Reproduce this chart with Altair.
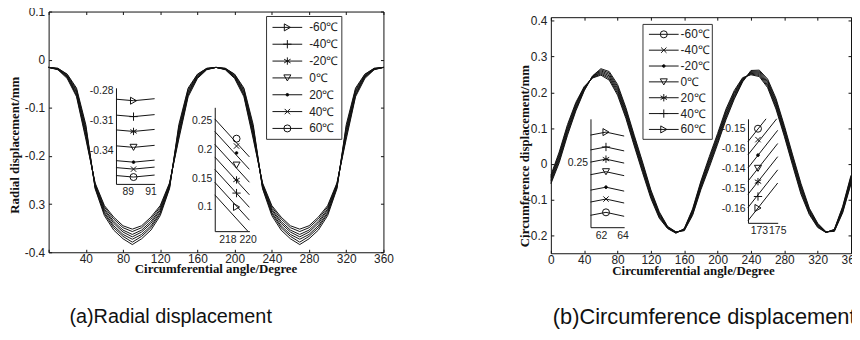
import altair as alt
import pandas as pd

W, H = 852, 332

THETA = list(range(0, 361, 10))
TEMPS = ["-60℃", "-40℃", "-20℃", "0℃", "20℃", "40℃", "60℃"]

# ---------------- panel (a): radial displacement (mm) ----------------
RAD_M60 = [-0.016, -0.021, -0.039, -0.077, -0.165, -0.256, -0.303, -0.327, -0.345, -0.352,
           -0.345, -0.327, -0.303, -0.256, -0.165, -0.077, -0.039, -0.021, -0.016,
           -0.021, -0.039, -0.077, -0.165, -0.256, -0.303, -0.327, -0.345, -0.352,
           -0.345, -0.327, -0.303, -0.256, -0.165, -0.077, -0.039, -0.021, -0.016]
RAD_M40 = [-0.016, -0.020, -0.037, -0.074, -0.160, -0.258, -0.306, -0.331, -0.349, -0.357,
           -0.349, -0.331, -0.306, -0.258, -0.160, -0.074, -0.037, -0.020, -0.016,
           -0.020, -0.037, -0.074, -0.160, -0.258, -0.306, -0.331, -0.349, -0.357,
           -0.349, -0.331, -0.306, -0.258, -0.160, -0.074, -0.037, -0.020, -0.016]
RAD_M20 = [-0.016, -0.020, -0.036, -0.071, -0.155, -0.260, -0.310, -0.336, -0.354, -0.363,
           -0.354, -0.336, -0.310, -0.260, -0.155, -0.071, -0.036, -0.020, -0.016,
           -0.020, -0.036, -0.071, -0.155, -0.260, -0.310, -0.336, -0.354, -0.363,
           -0.354, -0.336, -0.310, -0.260, -0.155, -0.071, -0.036, -0.020, -0.016]
RAD_0 = [-0.016, -0.019, -0.034, -0.068, -0.150, -0.262, -0.313, -0.340, -0.358, -0.368,
         -0.358, -0.340, -0.313, -0.262, -0.150, -0.068, -0.034, -0.019, -0.016,
         -0.019, -0.034, -0.068, -0.150, -0.262, -0.313, -0.340, -0.358, -0.368,
         -0.358, -0.340, -0.313, -0.262, -0.150, -0.068, -0.034, -0.019, -0.016]
RAD_20 = [-0.016, -0.019, -0.033, -0.065, -0.145, -0.264, -0.317, -0.345, -0.363, -0.373,
          -0.363, -0.345, -0.317, -0.264, -0.145, -0.065, -0.033, -0.019, -0.016,
          -0.019, -0.033, -0.065, -0.145, -0.264, -0.317, -0.345, -0.363, -0.373,
          -0.363, -0.345, -0.317, -0.264, -0.145, -0.065, -0.033, -0.019, -0.016]
RAD_40 = [-0.016, -0.018, -0.031, -0.062, -0.140, -0.266, -0.320, -0.349, -0.367, -0.379,
          -0.367, -0.349, -0.320, -0.266, -0.140, -0.062, -0.031, -0.018, -0.016,
          -0.018, -0.031, -0.062, -0.140, -0.266, -0.320, -0.349, -0.367, -0.379,
          -0.367, -0.349, -0.320, -0.266, -0.140, -0.062, -0.031, -0.018, -0.016]
RAD_60 = [-0.016, -0.018, -0.030, -0.059, -0.135, -0.268, -0.324, -0.354, -0.372, -0.384,
          -0.372, -0.354, -0.324, -0.268, -0.135, -0.059, -0.030, -0.018, -0.016,
          -0.018, -0.030, -0.059, -0.135, -0.268, -0.324, -0.354, -0.372, -0.384,
          -0.372, -0.354, -0.324, -0.268, -0.135, -0.059, -0.030, -0.018, -0.016]

# ---------------- panel (b): circumference displacement (mm) ----------------
CIR_M60 = [-0.032, 0.033, 0.110, 0.172, 0.216, 0.240, 0.248, 0.234, 0.192, 0.127, 0.050, -0.025,
           -0.097, -0.152, -0.181, -0.194, -0.181, -0.126, -0.048, 0.020, 0.085, 0.153, 0.205,
           0.241, 0.249, 0.244, 0.213, 0.153, 0.077, -0.005, -0.085, -0.142, -0.178, -0.192,
           -0.183, -0.119, -0.032]
CIR_M40 = [-0.036, 0.028, 0.105, 0.168, 0.214, 0.241, 0.251, 0.238, 0.197, 0.132, 0.055, -0.020,
           -0.093, -0.149, -0.180, -0.193, -0.182, -0.129, -0.052, 0.015, 0.080, 0.148, 0.201,
           0.239, 0.251, 0.247, 0.217, 0.158, 0.082, 0.000, -0.080, -0.139, -0.176, -0.192,
           -0.184, -0.122, -0.036]
CIR_M20 = [-0.040, 0.023, 0.100, 0.164, 0.212, 0.242, 0.254, 0.242, 0.202, 0.137, 0.060, -0.015,
           -0.089, -0.146, -0.179, -0.193, -0.183, -0.132, -0.056, 0.010, 0.075, 0.143, 0.197,
           0.237, 0.253, 0.250, 0.221, 0.163, 0.087, 0.005, -0.075, -0.136, -0.174, -0.191,
           -0.185, -0.125, -0.040]
CIR_0 = [-0.044, 0.018, 0.095, 0.160, 0.210, 0.243, 0.257, 0.246, 0.207, 0.142, 0.065, -0.010,
         -0.085, -0.143, -0.178, -0.192, -0.184, -0.135, -0.060, 0.005, 0.070, 0.138, 0.193,
         0.235, 0.255, 0.253, 0.225, 0.168, 0.092, 0.010, -0.070, -0.133, -0.172, -0.191,
         -0.186, -0.128, -0.044]
CIR_20 = [-0.048, 0.013, 0.090, 0.156, 0.208, 0.244, 0.260, 0.250, 0.212, 0.147, 0.070, -0.005,
          -0.081, -0.140, -0.177, -0.191, -0.185, -0.138, -0.064, 0.000, 0.065, 0.133, 0.189,
          0.233, 0.257, 0.256, 0.229, 0.173, 0.097, 0.015, -0.065, -0.130, -0.170, -0.191,
          -0.187, -0.131, -0.048]
CIR_40 = [-0.052, 0.008, 0.085, 0.152, 0.206, 0.245, 0.263, 0.254, 0.217, 0.152, 0.075, 0.000,
          -0.077, -0.137, -0.176, -0.191, -0.186, -0.141, -0.068, -0.005, 0.060, 0.128, 0.185,
          0.231, 0.259, 0.259, 0.233, 0.178, 0.102, 0.020, -0.060, -0.127, -0.168, -0.190,
          -0.188, -0.134, -0.052]
CIR_60 = [-0.056, 0.003, 0.080, 0.148, 0.204, 0.246, 0.266, 0.258, 0.222, 0.157, 0.080, 0.005,
          -0.073, -0.134, -0.175, -0.190, -0.187, -0.144, -0.072, -0.010, 0.055, 0.123, 0.181,
          0.229, 0.261, 0.262, 0.237, 0.183, 0.107, 0.025, -0.055, -0.124, -0.166, -0.190,
          -0.189, -0.137, -0.056]

# ---------------- inset data (as drawn in the figure) ----------------
# (a) inset 1, zoom near 89..91 deg; series -60..60 from top to bottom
A1_X = [87.96, 89.5, 91.35]
A1_Y = [[-0.2890, -0.2905, -0.2885], [-0.3048, -0.3063, -0.3043], [-0.3195, -0.3210, -0.3190],
        [-0.3353, -0.3368, -0.3348], [-0.3500, -0.3515, -0.3495], [-0.3569, -0.3584, -0.3564],
        [-0.3648, -0.3663, -0.3643]]
A1_MARK_X = 89.5
A1_YTICKS = [-0.28, -0.31, -0.34]
A1_XTICKS = [89, 91]

# (a) inset 2, zoom near 218..220 deg; lines top to bottom = 60..-60
A2_X0 = [216.75, 216.75, 216.75, 216.75, 216.75, 216.75, 216.75]
A2_Y0 = [0.2529, 0.2311, 0.2088, 0.1869, 0.1653, 0.1429, 0.1211]
A2_X1 = [220.17, 220.17, 220.17, 220.17, 220.17, 220.17, 220.01]
A2_Y1 = [0.1869, 0.1653, 0.1429, 0.1211, 0.0993, 0.0770, 0.0580]
A2_MARK_X = 218.9
A2_MARK_Y = [0.2186, 0.2058, 0.1938, 0.1727, 0.1469, 0.1241, 0.1000]
A2_YTICKS = [0.1, 0.15, 0.2, 0.25]
A2_XTICKS = [218, 220]

# (b) inset 1, zoom near 62..64 deg; top to bottom = 60..-60
B1_X = [61.01, 62.46, 64.16]
B1_Y = [[0.2780, 0.2810, 0.2770], [0.2630, 0.2660, 0.2620], [0.2507, 0.2537, 0.2497],
        [0.2380, 0.2410, 0.2370], [0.2224, 0.2254, 0.2214], [0.2104, 0.2134, 0.2094],
        [0.1970, 0.2000, 0.1960]]
B1_MARK_X = 62.46
B1_YTICKS = [0.25]
B1_XTICKS = [62, 64]

# (b) inset 2, zoom near 173..175 deg; top to bottom = -60..60
B2_X0 = [171.81, 171.81, 171.81, 171.81, 171.81, 171.81, 171.81]
B2_Y0 = [3.356, 2.696, 2.037, 1.378, 0.719, 0.059, -0.600]
B2_X1 = [173.78, 174.94, 175.05, 175.05, 175.05, 175.05, 175.05]
B2_Y1 = [4.495, 4.495, 3.921, 3.261, 2.602, 1.943, 1.284]
B2_MARK_X = 172.9
B2_MARK_Y = [4.0, 3.455, 2.677, 2.017, 1.353, 0.610, 0.035]
B2_YTICKS = [0, 1, 2, 3, 4]
B2_YLABELS = ["-0.16", "-0.15", "-0.14", "-0.16", "-0.15"]
B2_XTICKS = [173, 175]

# marker kinds per temperature (-60..60)
MARKS_A = ["tri_r", "plus", "star", "tri_d", "dot", "xmark", "circ"]
MARKS_B = ["circ", "xmark", "dot", "tri_d", "star", "plus", "tri_r"]

# ---------------- styling ----------------
SHAPES = {
    "tri_r": ("triangle-right", 50, "transparent"),
    "plus": ("M0,-1L0,1M-1,0L1,0", 70, "transparent"),
    "star": ("M0,-1L0,1M-0.87,-0.5L0.87,0.5M-0.87,0.5L0.87,-0.5", 55, "transparent"),
    "tri_d": ("triangle-down", 50, "transparent"),
    "dot": ("circle", 7, "black"),
    "xmark": ("M-0.7,-0.7L0.7,0.7M-0.7,0.7L0.7,-0.7", 60, "transparent"),
    "circ": ("circle", 50, "transparent"),
}
LABEL_FONT = "Liberation Sans"
TITLE_FONT = "Liberation Serif"
INK = "#111111"


def mark_row(kind):
    s = SHAPES[kind]
    return {"shape": s[0], "size": s[1], "fill": s[2]}


def long_df(series):
    rows = []
    for t, vals in zip(TEMPS, series):
        for th, v in zip(THETA, vals):
            rows.append({"theta": th, "value": v, "series": t})
    return pd.DataFrame(rows)


def point_enc():
    return dict(shape=alt.Shape("shape:N", scale=None),
                size=alt.Size("size:Q", scale=None),
                fill=alt.Fill("fill:N", scale=None))


def main_panel(df, xdom, xr, ydom, yr, xlabels, xticks, yvals, ylabel_expr):
    xs = alt.Scale(domain=xdom, range=xr, nice=False, zero=False)
    ys = alt.Scale(domain=ydom, range=yr, nice=False, zero=False)
    common = dict(grid=False, labelFlush=False, labelOverlap=False)
    lines = alt.Chart(df).mark_line(color=INK, strokeWidth=1).encode(
        x=alt.X("theta:Q", scale=xs, title=None,
                axis=alt.Axis(orient="bottom", offset=yr[0] - H, values=xlabels,
                              ticks=False, tickSize=0, labelPadding=1, domain=True,
                              labelExpr="'' + datum.value", **common)),
        y=alt.Y("value:Q", scale=ys, title=None,
                axis=alt.Axis(orient="left", offset=-xr[0], values=yvals,
                              ticks=False, tickSize=0, labelPadding=4, domain=True,
                              labelExpr=ylabel_expr, **common)),
        detail="series:N",
    )
    # inward ticks on bottom and left edges
    t1 = alt.Chart(df).mark_line(opacity=0).encode(
        x=alt.X("theta:Q", scale=xs, title=None,
                axis=alt.Axis(orient="top", offset=-yr[0], values=xticks, labels=False,
                              domain=False, ticks=True, tickSize=3, **common)),
        y=alt.Y("value:Q", scale=ys, title=None,
                axis=alt.Axis(orient="right", offset=xr[0] - W, values=yvals, labels=False,
                              domain=False, ticks=True, tickSize=3, **common)),
        detail="series:N",
    )
    # top and right frame lines with inward ticks
    t2 = alt.Chart(df).mark_line(opacity=0).encode(
        x=alt.X("theta:Q", scale=xs, title=None,
                axis=alt.Axis(orient="bottom", offset=yr[1] - H, values=xticks, labels=False,
                              domain=True, ticks=True, tickSize=3, **common)),
        y=alt.Y("value:Q", scale=ys, title=None,
                axis=alt.Axis(orient="left", offset=-xr[1], values=yvals, labels=False,
                              domain=True, ticks=True, tickSize=3, **common)),
        detail="series:N",
    )
    return [lines, t1, t2]


def inset(line_rows, mark_rows, xdom, xr, ydom, yr, xticks, yticks, ylabel_expr):
    xs = alt.Scale(domain=xdom, range=xr, nice=False, zero=False)
    ys = alt.Scale(domain=ydom, range=yr, nice=False, zero=False)
    common = dict(grid=False, labelFlush=False, labelOverlap=False, ticks=False,
                  tickSize=0, domain=True, labelFontSize=10.5)
    xax = alt.Axis(orient="bottom", offset=yr[0] - H, values=xticks, labelPadding=3,
                   labelExpr="'' + datum.value", **common)
    yax = alt.Axis(orient="left", offset=-xr[0], values=yticks, labelPadding=3,
                   labelExpr=ylabel_expr, **common)
    ln = alt.Chart(pd.DataFrame(line_rows)).mark_line(color=INK, strokeWidth=1).encode(
        x=alt.X("x:Q", scale=xs, axis=xax, title=None),
        y=alt.Y("y:Q", scale=ys, axis=yax, title=None),
        detail="series:N", order="o:Q",
    )
    pt = alt.Chart(pd.DataFrame(mark_rows)).mark_point(stroke=INK, strokeWidth=1, opacity=1).encode(
        x=alt.X("x:Q", scale=xs, axis=xax, title=None),
        y=alt.Y("y:Q", scale=ys, axis=yax, title=None),
        **point_enc(),
    )
    return alt.layer(ln, pt)


def legend(kinds, box, yr, xline, xmark, xtext):
    rows = []
    for i, (t, k) in enumerate(zip(TEMPS, kinds)):
        r = {"idx": i, "label": t}
        r.update(mark_row(k))
        rows.append(r)
    df = pd.DataFrame(rows)
    ys = alt.Scale(domain=[0, 6], range=yr, nice=False, zero=False)
    yenc = alt.Y("idx:Q", scale=ys, axis=None)
    rect = alt.Chart(pd.DataFrame({"a": [0]})).mark_rect(
        fill="white", stroke="#333333", strokeWidth=1).encode(
        x=alt.value(box[0]), x2=alt.value(box[1]), y=alt.value(box[2]), y2=alt.value(box[3]))
    rule = alt.Chart(df).mark_rule(color=INK, strokeWidth=1).encode(
        x=alt.value(xline[0]), x2=alt.value(xline[1]), y=yenc)
    pts = alt.Chart(df).mark_point(stroke=INK, strokeWidth=1, opacity=1).encode(
        x=alt.value(xmark), y=yenc, **point_enc())
    txt = alt.Chart(df).mark_text(align="left", baseline="middle", font=LABEL_FONT,
                                  fontSize=12, color="#222222").encode(
        x=alt.value(xtext), y=yenc, text="label:N")
    return alt.layer(rect, rule, pts, txt)


def text_layer(txt, x, y, size, font, weight="normal", angle=0, align="center"):
    return alt.Chart(pd.DataFrame({"t": [txt]})).mark_text(
        align=align, baseline="middle", font=font, fontSize=size, fontWeight=weight,
        angle=angle, color="#111111").encode(x=alt.value(x), y=alt.value(y), text="t:N")


def inset_rows_3pt(xs, ys_list, order_temps):
    rows = []
    for t, ys in zip(order_temps, ys_list):
        for o, (x, y) in enumerate(zip(xs, ys)):
            rows.append({"x": x, "y": y, "series": t, "o": o})
    return rows


def inset_rows_2pt(x0, y0, x1, y1, order_temps):
    rows = []
    for t, a, b, c, d in zip(order_temps, x0, y0, x1, y1):
        rows.append({"x": a, "y": b, "series": t, "o": 0})
        rows.append({"x": c, "y": d, "series": t, "o": 1})
    return rows


def mark_rows(mx, ys, kinds):
    rows = []
    for y, k in zip(ys, kinds):
        r = {"x": mx, "y": y}
        r.update(mark_row(k))
        rows.append(r)
    return rows


REV = list(reversed(TEMPS))
KA = MARKS_A
KA_REV = list(reversed(MARKS_A))
KB = MARKS_B
KB_REV = list(reversed(MARKS_B))

dfa = long_df([RAD_M60, RAD_M40, RAD_M20, RAD_0, RAD_20, RAD_40, RAD_60])
dfb = long_df([CIR_M60, CIR_M40, CIR_M20, CIR_0, CIR_20, CIR_40, CIR_60])

ya_expr = "abs(datum.value + 0.3) < 1e-9 ? '0.3' : '' + datum.value"
panel_a = main_panel(dfa, [0, 360], [41, 379], [-0.4, 0.1], [245, 2],
                     [40, 80, 120, 160, 200, 240, 280, 320, 360],
                     [0, 40, 80, 120, 160, 200, 240, 280, 320, 360],
                     [-0.4, -0.3, -0.2, -0.1, 0, 0.1], ya_expr)
panel_b = main_panel(dfb, [0, 360], [548, 851], [-0.25, 0.41], [246, 7.7],
                     [0, 40, 80, 120, 160, 200, 240, 280, 320, 360],
                     [0, 40, 80, 120, 160, 200, 240, 280, 320, 360],
                     [-0.2, -0.1, 0, 0.1, 0.2, 0.3, 0.4], "'' + datum.value")

in_a1 = inset(inset_rows_3pt(A1_X, A1_Y, TEMPS), mark_rows(A1_MARK_X, [r[1] for r in A1_Y], KA),
              [87.96, 91.35], [109, 148], [-0.3731, -0.2777], [176, 79],
              A1_XTICKS, A1_YTICKS, "'' + datum.value")
in_a2 = inset(inset_rows_2pt(A2_X0, A2_Y0, A2_X1, A2_Y1, REV), mark_rows(A2_MARK_X, A2_MARK_Y, KA_REV),
              [216.75, 220.17], [208.7, 243.7], [0.058, 0.273], [223.7, 98.7],
              A2_XTICKS, A2_YTICKS, "'' + datum.value")
in_b1 = inset(inset_rows_3pt(B1_X, B1_Y, REV), mark_rows(B1_MARK_X, [r[1] for r in B1_Y], KB_REV),
              [61.01, 64.16], [588, 622], [0.185, 0.2944], [219.7, 110.3],
              B1_XTICKS, B1_YTICKS, "'' + datum.value")
b2_expr = "[" + ",".join("'%s'" % s for s in B2_YLABELS) + "][datum.value]"
in_b2 = inset(inset_rows_2pt(B2_X0, B2_Y0, B2_X1, B2_Y1, TEMPS), mark_rows(B2_MARK_X, B2_MARK_Y, KB),
              [171.81, 175.05], [747, 777], [-0.708, 4.495], [215.3, 110.3],
              B2_XTICKS, B2_YTICKS, b2_expr)

leg_a = legend(KA, (261, 337, 7, 131), [18, 120], (267, 297), 282, 304)
leg_b = legend(KB, (641, 711, 15, 131), [25, 121], (647, 677), 662, 679)

texts = [
    text_layer("Radial displacement/mm", 7, 137, 13, TITLE_FONT, "bold", 270),
    text_layer("Circumferential angle/Degree", 210, 262, 13, TITLE_FONT, "bold"),
    text_layer("Circumference displacement/mm", 522, 148, 13, TITLE_FONT, "bold", 270),
    text_layer("Circumferential angle/Degree", 692, 264, 13, TITLE_FONT, "bold"),
    text_layer("(a)Radial displacement", 62, 310, 20, LABEL_FONT, align="left"),
    text_layer("(b)Circumference displacement", 550, 310, 22, LABEL_FONT, align="left"),
]

chart = alt.layer(
    *panel_a, *panel_b, in_a1, in_a2, in_b1, in_b2, leg_a, leg_b, *texts
).resolve_scale(x="independent", y="independent").resolve_axis(
    x="independent", y="independent"
).properties(
    width=W, height=H, padding=0, autosize=alt.AutoSizeParams(type="none"),
    background="white",
).configure_axis(
    labelFont=LABEL_FONT, labelFontSize=12, labelColor="#222222",
    domainColor="#111111", tickColor="#111111", domainWidth=1, tickWidth=1, grid=False,
).configure_view(strokeWidth=0)

chart.save("out.html", embed_options={"renderer": "svg", "actions": False})
